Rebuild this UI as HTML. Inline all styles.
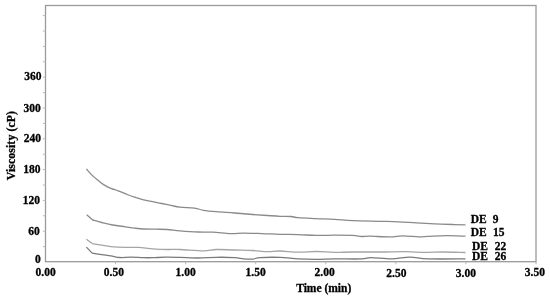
<!DOCTYPE html>
<html><head><meta charset="utf-8"><style>
html,body{margin:0;padding:0;background:#fff;}
body{width:550px;height:299px;overflow:hidden;}
svg{display:block;will-change:transform;}
text{font-family:"Liberation Serif",serif;font-weight:bold;fill:#000;stroke:#000;stroke-width:0.3px;}
</style></head><body>
<svg width="550" height="299" viewBox="0 0 550 299">
<rect x="45.5" y="5.5" width="490.5" height="256.2" fill="none" stroke="#9a9a9a" stroke-width="1.3"/>
<line x1="42.8" y1="246.60" x2="45.5" y2="246.60" stroke="#b8b8b8" stroke-width="1"/>
<line x1="42.8" y1="231.20" x2="45.5" y2="231.20" stroke="#b8b8b8" stroke-width="1"/>
<line x1="42.8" y1="215.80" x2="45.5" y2="215.80" stroke="#b8b8b8" stroke-width="1"/>
<line x1="42.8" y1="200.40" x2="45.5" y2="200.40" stroke="#b8b8b8" stroke-width="1"/>
<line x1="42.8" y1="185.00" x2="45.5" y2="185.00" stroke="#b8b8b8" stroke-width="1"/>
<line x1="42.8" y1="169.61" x2="45.5" y2="169.61" stroke="#b8b8b8" stroke-width="1"/>
<line x1="42.8" y1="154.21" x2="45.5" y2="154.21" stroke="#b8b8b8" stroke-width="1"/>
<line x1="42.8" y1="138.81" x2="45.5" y2="138.81" stroke="#b8b8b8" stroke-width="1"/>
<line x1="42.8" y1="123.41" x2="45.5" y2="123.41" stroke="#b8b8b8" stroke-width="1"/>
<line x1="42.8" y1="108.01" x2="45.5" y2="108.01" stroke="#b8b8b8" stroke-width="1"/>
<line x1="42.8" y1="92.61" x2="45.5" y2="92.61" stroke="#b8b8b8" stroke-width="1"/>
<line x1="42.8" y1="77.21" x2="45.5" y2="77.21" stroke="#b8b8b8" stroke-width="1"/>
<line x1="42.8" y1="61.81" x2="45.5" y2="61.81" stroke="#b8b8b8" stroke-width="1"/>
<line x1="42.8" y1="46.41" x2="45.5" y2="46.41" stroke="#b8b8b8" stroke-width="1"/>
<line x1="42.8" y1="31.02" x2="45.5" y2="31.02" stroke="#b8b8b8" stroke-width="1"/>
<line x1="42.8" y1="15.62" x2="45.5" y2="15.62" stroke="#b8b8b8" stroke-width="1"/>
<line x1="115.57" y1="261.7" x2="115.57" y2="264.3" stroke="#b8b8b8" stroke-width="1"/>
<line x1="185.64" y1="261.7" x2="185.64" y2="264.3" stroke="#b8b8b8" stroke-width="1"/>
<line x1="255.71" y1="261.7" x2="255.71" y2="264.3" stroke="#b8b8b8" stroke-width="1"/>
<line x1="325.78" y1="261.7" x2="325.78" y2="264.3" stroke="#b8b8b8" stroke-width="1"/>
<line x1="395.85" y1="261.7" x2="395.85" y2="264.3" stroke="#b8b8b8" stroke-width="1"/>
<line x1="465.92" y1="261.7" x2="465.92" y2="264.3" stroke="#b8b8b8" stroke-width="1"/>
<line x1="535.99" y1="261.7" x2="535.99" y2="264.3" stroke="#b8b8b8" stroke-width="1"/>
<path d="M86.40,169.00 C87.15,169.85 88.93,172.18 90.90,174.10 C92.87,176.02 96.08,178.75 98.20,180.50 C100.32,182.25 101.48,183.30 103.60,184.60 C105.72,185.90 108.47,187.27 110.90,188.30 C113.33,189.33 115.47,189.77 118.20,190.80 C120.93,191.83 124.58,193.43 127.30,194.50 C130.02,195.57 131.78,196.30 134.50,197.20 C137.22,198.10 140.57,199.15 143.60,199.90 C146.63,200.65 149.67,201.10 152.70,201.70 C155.73,202.30 158.77,202.88 161.80,203.50 C164.83,204.12 167.87,204.78 170.90,205.40 C173.93,206.02 176.07,206.75 180.00,207.20 C183.93,207.65 190.57,207.58 194.50,208.10 C198.43,208.62 199.95,209.70 203.60,210.30 C207.25,210.90 211.25,211.25 216.40,211.70 C221.55,212.15 228.45,212.53 234.50,213.00 C240.55,213.47 247.23,214.08 252.70,214.50 C258.17,214.92 262.75,215.20 267.30,215.50 C271.85,215.80 276.07,216.13 280.00,216.30 C283.93,216.47 287.87,216.27 290.90,216.50 C293.93,216.73 293.95,217.35 298.20,217.70 C302.45,218.05 310.35,218.32 316.40,218.60 C322.45,218.88 328.45,219.07 334.50,219.40 C340.55,219.73 345.12,220.28 352.70,220.60 C360.28,220.92 372.42,221.10 380.00,221.30 C387.58,221.50 392.13,221.53 398.20,221.80 C404.27,222.07 410.35,222.57 416.40,222.90 C422.45,223.23 428.45,223.53 434.50,223.80 C440.55,224.07 447.53,224.32 452.70,224.50 C457.87,224.68 463.37,224.83 465.50,224.90" fill="none" stroke="#8a8a8a" stroke-width="1.3" stroke-linejoin="round"/>
<path d="M86.70,214.70 L92.70,220.00 C94.22,220.42 98.47,221.67 101.80,222.50 C105.13,223.33 108.75,224.28 112.70,225.00 C116.65,225.72 121.87,226.28 125.50,226.80 C129.13,227.32 131.48,227.73 134.50,228.10 C137.52,228.47 139.95,228.82 143.60,229.00 C147.25,229.18 152.45,229.12 156.40,229.20 C160.35,229.28 163.37,229.23 167.30,229.50 C171.23,229.77 174.85,230.38 180.00,230.80 C185.15,231.22 192.75,231.77 198.20,232.00 C203.65,232.23 207.25,231.93 212.70,232.20 C218.15,232.47 225.75,233.45 230.90,233.60 C236.05,233.75 238.45,233.10 243.60,233.10 C248.75,233.10 255.73,233.40 261.80,233.60 C267.87,233.80 273.93,234.13 280.00,234.30 C286.07,234.47 292.13,234.42 298.20,234.60 C304.27,234.78 310.35,235.30 316.40,235.40 C322.45,235.50 328.45,235.20 334.50,235.20 C340.55,235.20 348.15,235.18 352.70,235.40 C357.25,235.62 358.92,236.37 361.80,236.50 C364.68,236.63 365.30,236.13 370.00,236.20 C374.70,236.27 384.55,236.97 390.00,236.90 C395.45,236.83 397.87,235.80 402.70,235.80 C407.53,235.80 414.75,236.80 419.00,236.90 C423.25,237.00 423.63,236.62 428.20,236.40 C432.77,236.18 440.18,235.63 446.40,235.60 C452.62,235.57 462.32,236.10 465.50,236.20" fill="none" stroke="#8a8a8a" stroke-width="1.3" stroke-linejoin="round"/>
<path d="M86.40,239.20 L92.20,243.60 C93.80,243.87 98.68,244.70 101.80,245.20 C104.92,245.70 106.95,246.23 110.90,246.60 C114.85,246.97 120.95,247.27 125.50,247.40 C130.05,247.53 133.67,247.17 138.20,247.40 C142.73,247.63 147.85,248.45 152.70,248.80 C157.55,249.15 162.75,249.38 167.30,249.50 C171.85,249.62 173.95,249.27 180.00,249.50 C186.05,249.73 197.53,250.90 203.60,250.90 C209.67,250.90 211.25,249.65 216.40,249.50 C221.55,249.35 228.45,249.83 234.50,250.00 C240.55,250.17 247.23,250.23 252.70,250.50 C258.17,250.77 262.75,251.52 267.30,251.60 C271.85,251.68 274.85,250.90 280.00,251.00 C285.15,251.10 292.13,252.12 298.20,252.20 C304.27,252.28 310.35,251.47 316.40,251.50 C322.45,251.53 328.45,252.32 334.50,252.40 C340.55,252.48 345.12,252.07 352.70,252.00 C360.28,251.93 371.05,252.07 380.00,252.00 C388.95,251.93 398.98,251.53 406.40,251.60 C413.82,251.67 418.45,252.33 424.50,252.40 C430.55,252.47 435.87,251.98 442.70,252.00 C449.53,252.02 461.70,252.42 465.50,252.50" fill="none" stroke="#a5a5a5" stroke-width="1.3" stroke-linejoin="round"/>
<path d="M86.40,247.10 L92.20,253.10 C93.80,253.35 98.68,254.13 101.80,254.60 C104.92,255.07 107.87,255.42 110.90,255.90 C113.93,256.38 116.67,257.28 120.00,257.50 C123.33,257.72 126.97,257.17 130.90,257.20 C134.83,257.23 139.97,257.62 143.60,257.70 C147.23,257.78 149.05,257.78 152.70,257.70 C156.35,257.62 160.95,257.25 165.50,257.20 C170.05,257.15 174.55,257.27 180.00,257.40 C185.45,257.53 192.13,258.02 198.20,258.00 C204.27,257.98 210.35,257.37 216.40,257.30 C222.45,257.23 229.97,257.33 234.50,257.60 C239.03,257.87 240.57,258.65 243.60,258.90 C246.63,259.15 249.97,259.32 252.70,259.10 C255.43,258.88 255.45,257.88 260.00,257.60 C264.55,257.32 273.63,257.18 280.00,257.40 C286.37,257.62 292.13,258.58 298.20,258.90 C304.27,259.22 310.35,259.30 316.40,259.30 C322.45,259.30 326.93,258.97 334.50,258.90 C342.07,258.83 355.73,259.12 361.80,258.90 C367.87,258.68 365.90,257.60 370.90,257.60 C375.90,257.60 385.28,258.98 391.80,258.90 C398.32,258.82 403.93,257.10 410.00,257.10 C416.07,257.10 418.95,258.60 428.20,258.90 C437.45,259.20 459.28,258.90 465.50,258.90" fill="none" stroke="#7a7a7a" stroke-width="1.3" stroke-linejoin="round"/>
<text x="24.30" y="80.10" style="font-size:11.5px">360</text>
<text x="23.40" y="112.10" style="font-size:11.5px">300</text>
<text x="23.65" y="142.30" style="font-size:11.5px">240</text>
<text x="23.15" y="173.10" style="font-size:11.5px">180</text>
<text x="22.85" y="204.05" style="font-size:11.5px">120</text>
<text x="28.30" y="235.15" style="font-size:11.5px">60</text>
<text x="34.90" y="263.15" style="font-size:11.5px">0</text>
<text x="35.50" y="275.80" style="font-size:11.5px">0.00</text>
<text x="103.80" y="275.80" style="font-size:11.5px">0.50</text>
<text x="175.60" y="276.25" style="font-size:11.5px">1.00</text>
<text x="245.60" y="276.25" style="font-size:11.5px">1.50</text>
<text x="314.50" y="275.80" style="font-size:11.5px">2.00</text>
<text x="386.25" y="276.65" style="font-size:11.5px">2.50</text>
<text x="455.75" y="276.65" style="font-size:11.5px">3.00</text>
<text x="524.75" y="275.85" style="font-size:11.5px">3.50</text>
<text x="470.70" y="222.75" style="font-size:11.5px">DE</text>
<text x="492.80" y="222.75" style="font-size:11.5px">9</text>
<text x="470.70" y="235.60" style="font-size:11.5px">DE</text>
<text x="493.05" y="235.60" style="font-size:11.5px">15</text>
<text x="471.90" y="249.50" style="font-size:11.5px">DE</text>
<text x="494.85" y="249.50" style="font-size:11.5px">22</text>
<text x="471.90" y="259.90" style="font-size:11.5px">DE</text>
<text x="494.65" y="259.90" style="font-size:11.5px">26</text>
<text x="296.20" y="291.80" style="font-size:11.5px">Time (min)</text>
<text transform="translate(15.20,180.25) rotate(-90)" style="font-size:11.8px" textLength="69.3" lengthAdjust="spacing">Viscosity (cP)</text>
</svg>
</body></html>
